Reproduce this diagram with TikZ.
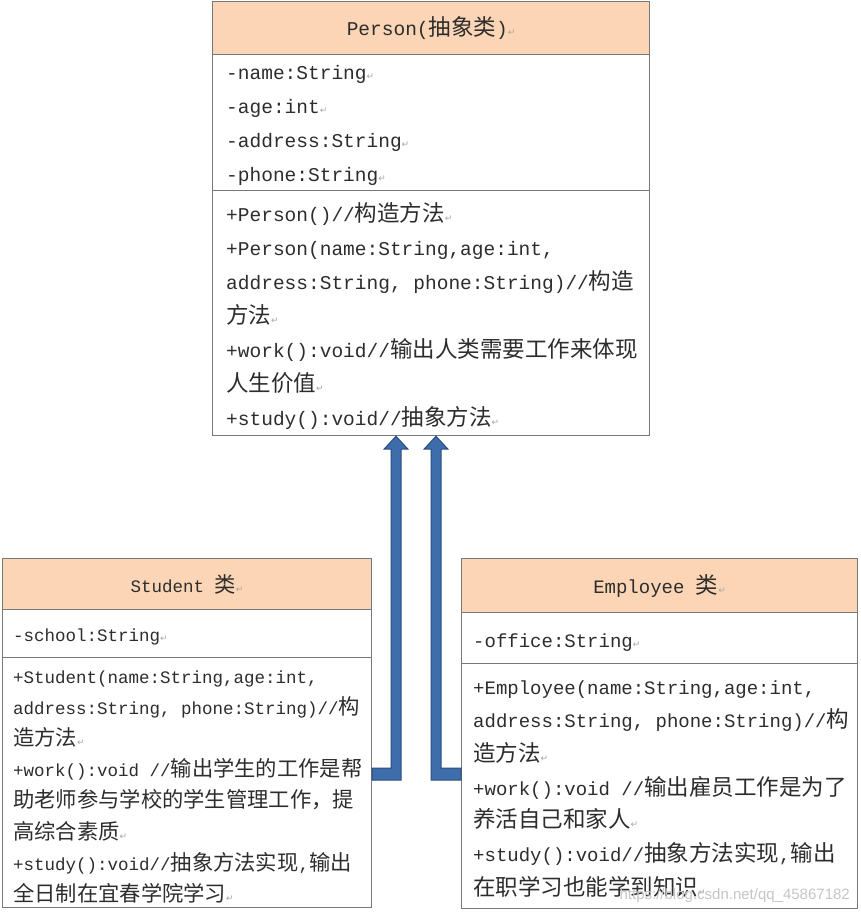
\documentclass[tikz,border=0pt]{standalone}
\usepackage{fontspec}
\usetikzlibrary{calc}
\setmainfont{Liberation Mono}
\newfontfamily\cjk{Noto Sans CJK SC}
\newfontfamily\dvs{DejaVu Sans}
\newfontfamily\wmfont{Liberation Sans}
\newcommand\zhsz{22.5}
\newcommand\zh[1]{{\cjk\fontsize{\zhsz}{\zhsz}\selectfont #1}}
\newcommand\rt{{\dvs\fontsize{9}{9}\selectfont\color{gray!70}↵}}
\definecolor{peach}{RGB}{251,213,181}
\definecolor{boxc}{RGB}{120,120,120}
\definecolor{txt}{RGB}{45,45,45}
\definecolor{arrf}{RGB}{62,109,171}
\definecolor{arrd}{RGB}{44,78,128}
\tikzset{
  box/.style={draw=boxc, line width=1.2pt, inner sep=0pt, anchor=north west},
  hdr/.style={box, fill=peach},
  pfont/.style={font={\def\zhsz{22.5}\fontsize{19.5}{20}\selectfont}},
  sfont/.style={font={\def\zhsz{21.3}\fontsize{17.5}{18}\selectfont}},
  efont/.style={font={\def\zhsz{22.5}\fontsize{19}{20}\selectfont}},
  ln/.style={anchor=base west, inner sep=0pt, text=txt},
  htxt/.style={inner sep=0pt, text=txt},
  arr/.style={fill=arrf, draw=arrd, line width=1pt, line join=miter},
}
\begin{document}
\begin{tikzpicture}[x=1pt, y=-1pt]
\useasboundingbox[fill=white] (0,0) rectangle (860,912);

% ---------- Person ----------
\node[hdr, minimum width=437pt, minimum height=53pt] (ph) at (212,1) {};
\node[box, minimum width=437pt, minimum height=136pt] (pa) at (212,54) {};
\node[box, minimum width=437pt, minimum height=245pt] (pm) at (212,190) {};
\node[htxt, pfont] (pt) at (ph.center) {Person(\zh{抽象类})\rt};
\node[ln, pfont] (pa1) at (226,80) {-name:String\rt};
\node[ln, pfont] (pa2) at (226,114) {-age:int\rt};
\node[ln, pfont] (pa3) at (226,148) {-address:String\rt};
\node[ln, pfont] (pa4) at (226,182) {-phone:String\rt};
\node[ln, pfont] (pm1) at (226,221) {+Person()//\zh{构造方法}\rt};
\node[ln, pfont] (pm2) at (226,255) {+Person(name:String,age:int,};
\node[ln, pfont] (pm3) at (226,289) {address:String, phone:String)//\zh{构造}};
\node[ln, pfont] (pm4) at (226,323) {\zh{方法}\rt};
\node[ln, pfont] (pm5) at (226,357) {+work():void//\zh{输出人类需要工作来体现}};
\node[ln, pfont] (pm6) at (226,391) {\zh{人生价值}\rt};
\node[ln, pfont] (pm7) at (226,425) {+study():void//\zh{抽象方法}\rt};

% ---------- Student ----------
\node[hdr, minimum width=369pt, minimum height=51pt] (sh) at (2,558) {};
\node[box, minimum width=369pt, minimum height=48pt] (sa) at (2,609) {};
\node[box, minimum width=369pt, minimum height=250pt] (sm) at (2,657) {};
\node[htxt, sfont] (st) at (sh.center) {Student \zh{类}\rt};
\node[ln, sfont] (sa1) at (13,641) {-school:String\rt};
\node[ln, sfont] (sm1) at (13,683) {+Student(name:String,age:int,};
\node[ln, sfont] (sm2) at (13,714) {address:String, phone:String)//\zh{构}};
\node[ln, sfont] (sm3) at (13,745) {\zh{造方法}\rt};
\node[ln, sfont] (sm4) at (13,776) {+work():void //\zh{输出学生的工作是帮}};
\node[ln, sfont] (sm5) at (13,807) {\zh{助老师参与学校的学生管理工作，提}};
\node[ln, sfont] (sm6) at (13,839) {\zh{高综合素质}\rt};
\node[ln, sfont] (sm7) at (13,870) {+study():void//\zh{抽象方法实现},\zh{输出}};
\node[ln, sfont] (sm8) at (13,901) {\zh{全日制在宜春学院学习}\rt};

% ---------- Employee ----------
\node[hdr, minimum width=396pt, minimum height=54pt] (eh) at (461,558) {};
\node[box, minimum width=396pt, minimum height=51pt] (ea) at (461,612) {};
\node[box, minimum width=396pt, minimum height=245pt] (em) at (461,663) {};
\node[htxt, efont] (et) at (eh.center) {Employee \zh{类}\rt};
\node[ln, efont] (ea1) at (473,647) {-office:String\rt};
\node[ln, efont] (em1) at (473,694) {+Employee(name:String,age:int,};
\node[ln, efont] (em2) at (473,727) {address:String, phone:String)//\zh{构}};
\node[ln, efont] (em3) at (473,761) {\zh{造方法}\rt};
\node[ln, efont] (em4) at (473,795) {+work():void //\zh{输出雇员工作是为了}};
\node[ln, efont] (em5) at (473,827) {\zh{养活自己和家人}\rt};
\node[ln, efont] (em6) at (473,861) {+study():void//\zh{抽象方法实现},\zh{输出}};
\node[ln, efont] (em7) at (473,895) {\zh{在职学习也能学到知识}\rt};

% ---------- inheritance arrows ----------
\coordinate (lbeg) at (sm.east |- 0,774);
\coordinate (ltip) at (396,0 |- pm.south);
\coordinate (lc) at (ltip |- lbeg);
\draw[arr] ($(lbeg)+(0,-6)$) -- ($(lc)+(-5,-6)$) -- ($(ltip)+(-5,13)$)
  -- ($(ltip)+(-12,13)$) -- (ltip) -- ($(ltip)+(12,13)$) -- ($(ltip)+(5,13)$)
  -- ($(lc)+(5,6)$) -- ($(lbeg)+(0,6)$) -- cycle;

\coordinate (rbeg) at (em.west |- 0,774);
\coordinate (rtip) at (436,0 |- pm.south);
\coordinate (rc) at (rtip |- rbeg);
\draw[arr] ($(rbeg)+(0,-6)$) -- ($(rc)+(5,-6)$) -- ($(rtip)+(5,13)$)
  -- ($(rtip)+(12,13)$) -- (rtip) -- ($(rtip)+(-12,13)$) -- ($(rtip)+(-5,13)$)
  -- ($(rc)+(-5,6)$) -- ($(rbeg)+(0,6)$) -- cycle;

% ---------- watermark ----------
\node[anchor=base east, inner sep=0pt, text=gray!45, font={\wmfont\fontsize{15}{15}\selectfont}] (wm) at (850,899) {https://blog.csdn.net/qq\_45867182};
\end{tikzpicture}
\end{document}
